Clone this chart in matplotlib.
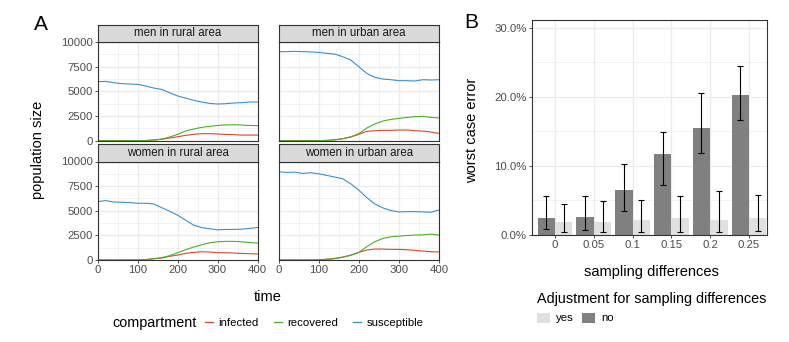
import matplotlib
matplotlib.use("Agg")
import matplotlib.pyplot as plt
import numpy as np
from matplotlib.lines import Line2D
from matplotlib.patches import Patch
from matplotlib.ticker import FixedLocator

plt.rcParams["font.family"] = ["Liberation Sans", "DejaVu Sans"]

# ---- panel A data ----
TIME = [0, 20, 40, 60, 80, 100, 120, 140, 160, 180, 200,
        220, 240, 260, 280, 300, 320, 340, 360, 380, 400]

FACETS = ["men in rural area", "men in urban area",
          "women in rural area", "women in urban area"]

susceptible = {
    "men in rural area": [5980, 6010, 5880, 5780, 5740, 5710, 5540, 5340, 5200, 4860, 4530,
                          4320, 4090, 3920, 3780, 3720, 3750, 3820, 3850, 3920, 3920],
    "men in urban area": [9020, 9020, 9050, 9020, 8990, 8950, 8850, 8780, 8510, 8180, 7500,
                          6820, 6420, 6250, 6180, 6080, 6080, 6050, 6180, 6150, 6180],
    "women in rural area": [5930, 6030, 5890, 5860, 5830, 5760, 5760, 5690, 5320, 4950, 4550,
                            4040, 3540, 3300, 3170, 3060, 3100, 3100, 3130, 3200, 3300],
    "women in urban area": [8960, 8890, 8920, 8790, 8860, 8750, 8590, 8420, 8250, 7740, 7100,
                            6330, 5690, 5290, 5020, 4880, 4910, 4910, 4880, 4850, 5080],
}
recovered = {
    "men in rural area": [0, 0, 0, 0, 0, 5, 20, 60, 170, 370, 640,
                          980, 1180, 1350, 1450, 1550, 1590, 1620, 1590, 1550, 1520],
    "men in urban area": [0, 0, 0, 0, 0, 5, 20, 80, 200, 400, 710,
                          1280, 1690, 1990, 2160, 2260, 2360, 2430, 2470, 2360, 2300],
    "women in rural area": [0, 0, 0, 0, 0, 10, 40, 130, 240, 440, 740,
                            1040, 1310, 1550, 1750, 1850, 1890, 1890, 1850, 1780, 1720],
    "women in urban area": [0, 0, 0, 0, 0, 20, 70, 130, 270, 470, 770,
                            1350, 1850, 2190, 2360, 2420, 2490, 2530, 2560, 2630, 2530],
}
infected = {
    "men in rural area": [0, 0, 0, 0, 0, 5, 20, 70, 140, 270, 400,
                          540, 640, 710, 710, 680, 640, 610, 570, 570, 570],
    "men in urban area": [0, 0, 0, 0, 0, 5, 30, 100, 200, 370, 640,
                          950, 1010, 1050, 1050, 1080, 1080, 1010, 980, 880, 740],
    "women in rural area": [0, 0, 0, 0, 0, 10, 40, 130, 200, 370, 500,
                            670, 770, 840, 810, 740, 740, 710, 670, 640, 610],
    "women in urban area": [0, 0, 0, 0, 0, 20, 70, 170, 300, 500, 770,
                            1010, 1110, 1110, 1080, 1080, 1040, 980, 910, 840, 810],
}

COMP_COLORS = {"infected": "#d9482b", "recovered": "#4daf2a", "susceptible": "#3a8fd0"}

# ---- panel B data ----
SAMPLING = ["0", "0.05", "0.1", "0.15", "0.2", "0.25"]
err_no = [0.024, 0.026, 0.065, 0.117, 0.155, 0.203]
err_no_lo = [0.008, 0.007, 0.035, 0.073, 0.119, 0.166]
err_no_hi = [0.056, 0.057, 0.102, 0.149, 0.205, 0.245]
err_yes = [0.019, 0.019, 0.021, 0.024, 0.022, 0.025]
err_yes_lo = [0.005, 0.004, 0.004, 0.005, 0.005, 0.006]
err_yes_hi = [0.045, 0.049, 0.051, 0.056, 0.063, 0.058]

W, H = 789, 342
TICK_C = "#4d4d4d"
BORDER = "#333333"
GRID = "#ebebeb"


def rect(x0, y0, x1, y1):
    return [x0 / W, 1 - y1 / H, (x1 - x0) / W, (y1 - y0) / H]


def style_axes(ax):
    for sp in ax.spines.values():
        sp.set_color(BORDER)
        sp.set_linewidth(0.8)
    ax.set_axisbelow(True)
    ax.grid(which="major", color=GRID, lw=0.9)
    ax.grid(which="minor", color=GRID, lw=0.45)
    ax.tick_params(which="major", direction="out", length=2.5, width=0.6,
                   color=BORDER, labelcolor=TICK_C, labelsize=8.2, pad=1)
    ax.tick_params(which="minor", length=0)


fig = plt.figure(figsize=(W / 100, H / 100), dpi=100)

cols = [(97.7, 257.5), (278.5, 439)]
rows = [(25, 42, 140.7), (144, 161.5, 260)]

for i, name in enumerate(FACETS):
    r, c = divmod(i, 2)
    x0, x1 = cols[c]
    s0, p0, p1 = rows[r]
    ax = fig.add_axes(rect(x0, p0, x1, p1))
    ax.plot(TIME, infected[name], color=COMP_COLORS["infected"], lw=0.8)
    ax.plot(TIME, recovered[name], color=COMP_COLORS["recovered"], lw=0.8)
    ax.plot(TIME, susceptible[name], color=COMP_COLORS["susceptible"], lw=0.8)
    ax.set_xlim(0, 400)
    ax.set_ylim(0, 10000)
    ax.xaxis.set_major_locator(FixedLocator([0, 100, 200, 300, 400]))
    ax.xaxis.set_minor_locator(FixedLocator([50, 150, 250, 350]))
    ax.yaxis.set_major_locator(FixedLocator([0, 2500, 5000, 7500, 10000]))
    ax.yaxis.set_minor_locator(FixedLocator([1250, 3750, 6250, 8750]))
    style_axes(ax)
    if c == 1:
        ax.tick_params(axis="y", which="both", left=False, labelleft=False)
    if r == 0:
        ax.tick_params(axis="x", which="both", bottom=False, labelbottom=False)

    sax = fig.add_axes(rect(x0, s0, x1, p0))
    sax.set_facecolor("#d9d9d9")
    sax.set_xticks([])
    sax.set_yticks([])
    for sp in sax.spines.values():
        sp.set_color(BORDER)
        sp.set_linewidth(0.8)
    sax.text(0.5, 0.5, name, ha="center", va="center", fontsize=8.3,
             color="#1a1a1a", transform=sax.transAxes)

fig.text(41 / W, 1 - 25 / H, "A", fontsize=15, ha="center", va="center")
fig.text(38 / W, 1 - 150 / H, "population size", rotation=90,
         fontsize=10.5, ha="center", va="center")
fig.text(268 / W, 1 - 297 / H, "time", fontsize=10.5, ha="center", va="center")

fig.text(112 / W, 1 - 323 / H, "compartment", fontsize=10.4, ha="left", va="center")
handles = [Line2D([], [], color=COMP_COLORS[k], lw=0.9) for k in COMP_COLORS]
fig.legend(handles, list(COMP_COLORS), loc="center left",
           bbox_to_anchor=(205 / W, 1 - 323 / H), ncol=3, frameon=False,
           fontsize=8.2, handlelength=0.7, handletextpad=0.5,
           columnspacing=1.3, borderpad=0, borderaxespad=0)

# ---- panel B ----
axb = fig.add_axes(rect(531.7, 20, 767, 235))
pos = np.arange(len(SAMPLING))
bw = 0.45
no_c = "#808080"
yes_c = "#e0e0e0"
axb.bar(pos - bw / 2, err_no, width=bw, color=no_c, zorder=2)
axb.bar(pos + bw / 2, err_yes, width=bw, color=yes_c, zorder=2)
no_mean = np.array(err_no)
yes_mean = np.array(err_yes)
axb.errorbar(pos - bw / 2, no_mean,
             yerr=[no_mean - np.array(err_no_lo), np.array(err_no_hi) - no_mean],
             fmt="none", ecolor="black", elinewidth=0.8, capsize=2.2, capthick=0.8, zorder=3)
axb.errorbar(pos + bw / 2, yes_mean,
             yerr=[yes_mean - np.array(err_yes_lo), np.array(err_yes_hi) - yes_mean],
             fmt="none", ecolor="black", elinewidth=0.8, capsize=2.2, capthick=0.8, zorder=3)
axb.set_xlim(-0.6, 5.465)
axb.set_ylim(0, 0.311)
axb.set_xticks(pos)
axb.set_xticklabels(SAMPLING)
axb.yaxis.set_major_locator(FixedLocator([0, 0.1, 0.2, 0.3]))
axb.yaxis.set_minor_locator(FixedLocator([0.05, 0.15, 0.25]))
axb.set_yticklabels(["0.0%", "10.0%", "20.0%", "30.0%"])
style_axes(axb)
axb.grid(which="minor", axis="x", visible=False)

fig.text(471 / W, 1 - 22 / H, "B", fontsize=15, ha="center", va="center")
fig.text(472 / W, 1 - 130 / H, "worst case error", rotation=90,
         fontsize=10.5, ha="center", va="center")
fig.text(651 / W, 1 - 272 / H, "sampling differences", fontsize=10.5,
         ha="center", va="center")
fig.text(537 / W, 1 - 299 / H, "Adjustment for sampling differences",
         fontsize=10.4, ha="left", va="center")
bh = [Patch(facecolor=yes_c, edgecolor="none"), Patch(facecolor=no_c, edgecolor="none")]
fig.legend(bh, ["yes", "no"], loc="center left",
           bbox_to_anchor=(537 / W, 1 - 318 / H), ncol=2, frameon=False,
           fontsize=8.2, handlelength=1.1, handleheight=1.0, handletextpad=0.6,
           columnspacing=0.7, borderpad=0, borderaxespad=0)

fig.savefig("out.png", dpi=100)
